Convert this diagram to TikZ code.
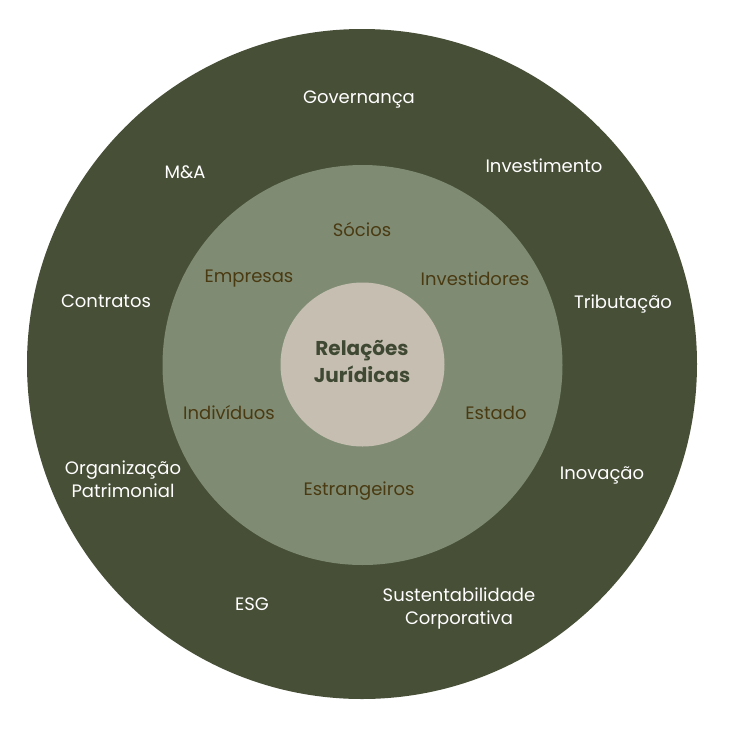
\documentclass[tikz,border=0pt]{standalone}
\usepackage{fontspec}
\setmainfont{Poppins}
\usepackage{xcolor}
\usepackage{tikz}
\usetikzlibrary{positioning}

\definecolor{anelext}{HTML}{474F37}
\definecolor{anelmed}{HTML}{7F8C73}
\definecolor{nucleo}{HTML}{C5BEB1}
\definecolor{txtmed}{HTML}{4A3A12}
\definecolor{txtnuc}{HTML}{3F4832}

\begin{document}
\begin{tikzpicture}[x=1pt, y=-1pt,
    rotext/.style={text=white, font=\fontsize{18}{23}\selectfont, align=center},
    rotmed/.style={text=txtmed, font=\fontsize{18}{23}\selectfont, align=center},
    rotnuc/.style={text=txtnuc, font=\fontsize{20}{27}\selectfont\bfseries, align=center}]
        % Area totale
        \useasboundingbox (0,0) rectangle (729,729);

        % Cerchi concentrici
        \fill[anelext] (362,364) circle (335);
        \fill[anelmed] (362.5,365) circle (200);
        \fill[nucleo] (362.5,364.5) circle (82);

        % Nucleo
        \node[rotnuc] (relacoes) at (362,362) {Relações\\Jurídicas};

        % Anello medio
        \node[rotmed] (socios) at (362,229) {Sócios};
        \node[rotmed] (empresas) at (249,279) {Empresas};
        \node[rotmed] (investidores) at (475,279) {Investidores};
        \node[rotmed] (individuos) at (229,413) {Indivíduos};
        \node[rotmed] (estado) at (496,413) {Estado};
        \node[rotmed] (estrangeiros) at (359,491) {Estrangeiros};

        % Anello esterno
        \node[rotext] (governanca) at (359,99) {Governança};
        \node[rotext] (ma) at (185,172) {M\&A};
        \node[rotext] (investimento) at (544,166) {Investimento};
        \node[rotext] (contratos) at (106,301) {Contratos};
        \node[rotext] (tributacao) at (623,304) {Tributação};
        \node[rotext] (organizacao) at (123,479) {Organização\\Patrimonial};
        \node[rotext] (inovacao) at (602,475) {Inovação};
        \node[rotext] (esg) at (252,604) {ESG};
        \node[rotext] (sustentabilidade) at (459,608) {Sustentabilidade\\Corporativa};
\end{tikzpicture}
\end{document}
